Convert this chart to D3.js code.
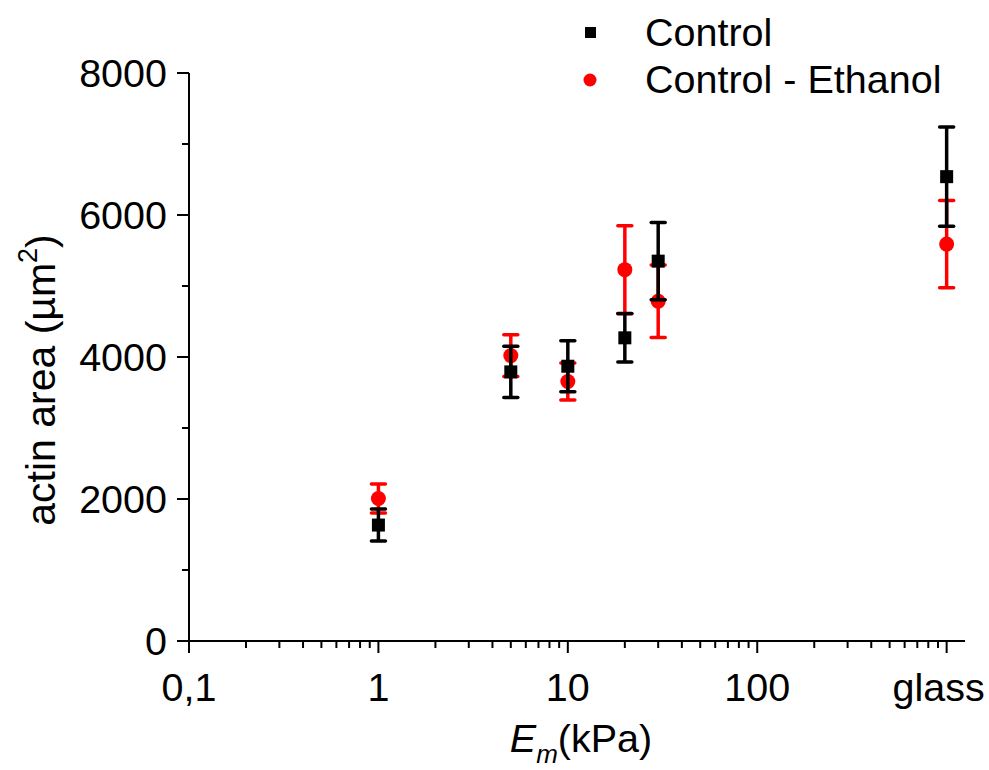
<!DOCTYPE html>
<html>
<head>
<meta charset="utf-8">
<script src="https://cdn.jsdelivr.net/npm/d3@7"></script>
<style>
  html, body { margin: 0; padding: 0; background: #fff; }
  svg { display: block; }
  text { font-family: "Liberation Sans", Arial, sans-serif; fill: #000; }
</style>
</head>
<body>
<script>
// Substrate stiffness (kPa); 1000 stands for the glass substrate
const stiffness = [1, 5, 10, 20, 30, 1000];

// Actin area (µm²), mean and error for each condition
const controlMean = [1633, 3790, 3870, 4270, 5350, 6540];
const controlErr  = [225, 360, 360, 342, 545, 700];
const ethanolMean = [2007, 4020, 3655, 5230, 4785, 5590];
const ethanolErr  = [204, 295, 260, 620, 510, 615];

// Axis ticks and labels
const xMajorTicks = [0.1, 1, 10, 100, 1000];
const xMajorLabels = ["0,1", "1", "10", "100", "glass"];
const yMajorTicks = [0, 2000, 4000, 6000, 8000];
const yMinorTicks = [1000, 3000, 5000, 7000];

const seriesNames = ["Control", "Control - Ethanol"];
const seriesColors = ["#000000", "#ff0000"];

const W = 989, H = 770;
const FS = 39.5;
const svg = d3.select("body").append("svg").attr("width", W).attr("height", H);

const x = d3.scaleLog().domain([0.1, 1250]).range([189, 965]);
const y = d3.scaleLinear().domain([0, 8000]).range([641, 73]);

// minor x ticks: 2..9 within each decade
const xMinorTicks = [];
xMajorTicks.slice(0, -1).forEach(d => { for (let k = 2; k <= 9; k++) xMinorTicks.push(+(d * k).toPrecision(3)); });

const axisColor = "#000";
const g = svg.append("g");

// y axis line
g.append("line").attr("x1", x(0.1)).attr("x2", x(0.1)).attr("y1", y(8000)).attr("y2", y(0) + 1)
  .attr("stroke", axisColor).attr("stroke-width", 2);
// x axis line
g.append("line").attr("x1", x(0.1) - 1).attr("x2", x(1250)).attr("y1", y(0)).attr("y2", y(0))
  .attr("stroke", axisColor).attr("stroke-width", 2);

// y ticks
g.selectAll(".ymaj").data(yMajorTicks).join("line")
  .attr("x1", x(0.1) - 12).attr("x2", x(0.1)).attr("y1", d => y(d)).attr("y2", d => y(d))
  .attr("stroke", axisColor).attr("stroke-width", 2);
g.selectAll(".ymin").data(yMinorTicks).join("line")
  .attr("x1", x(0.1) - 7).attr("x2", x(0.1)).attr("y1", d => y(d)).attr("y2", d => y(d))
  .attr("stroke", axisColor).attr("stroke-width", 2);
g.selectAll(".ylab").data(yMajorTicks).join("text")
  .attr("x", x(0.1) - 22).attr("y", d => y(d) + 14)
  .attr("text-anchor", "end").attr("font-size", FS)
  .text(d => d);

// x ticks
g.selectAll(".xmaj").data(xMajorTicks).join("line")
  .attr("x1", d => x(d)).attr("x2", d => x(d)).attr("y1", y(0)).attr("y2", y(0) + 12)
  .attr("stroke", axisColor).attr("stroke-width", 2);
g.selectAll(".xmin").data(xMinorTicks).join("line")
  .attr("x1", d => x(d)).attr("x2", d => x(d)).attr("y1", y(0)).attr("y2", y(0) + 7)
  .attr("stroke", axisColor).attr("stroke-width", 2);
g.selectAll(".xlab").data(xMajorTicks).join("text")
  .attr("x", (d, i) => x(d) - (i === xMajorTicks.length - 1 ? 8 : 0))
  .attr("y", 701)
  .attr("text-anchor", "middle").attr("font-size", FS)
  .text((d, i) => xMajorLabels[i]);

// axis titles
const xt = svg.append("text").attr("x", 581).attr("y", 752).attr("text-anchor", "middle").attr("font-size", FS);
xt.append("tspan").attr("font-style", "italic").text("E");
xt.append("tspan").attr("font-style", "italic").attr("font-size", 26).attr("dy", 11).text("m");
xt.append("tspan").attr("dy", -11).text("(kPa)");

const yt = svg.append("text").attr("transform", "translate(55,380) rotate(-90)")
  .attr("text-anchor", "middle").attr("font-size", FS + 1.5);
yt.append("tspan").text("actin area (\u00b5m");
yt.append("tspan").attr("font-size", 27).attr("dy", -18).text("2");
yt.append("tspan").attr("dy", 18).text(")");

// data series: error bars then markers; ethanol drawn first so control sits on top
function drawSeries(means, errs, color, shape) {
  const s = svg.append("g");
  const rows = stiffness.map((v, i) => ({ v, m: means[i], e: errs[i] }));
  s.selectAll(".bar").data(rows).join("line")
    .attr("x1", d => x(d.v)).attr("x2", d => x(d.v))
    .attr("y1", d => y(d.m + d.e)).attr("y2", d => y(d.m - d.e))
    .attr("stroke", color).attr("stroke-width", 3.5);
  s.selectAll(".capt").data(rows).join("line")
    .attr("x1", d => x(d.v) - 7).attr("x2", d => x(d.v) + 7)
    .attr("y1", d => y(d.m + d.e)).attr("y2", d => y(d.m + d.e))
    .attr("stroke", color).attr("stroke-width", 3.5).attr("stroke-linecap", "round");
  s.selectAll(".capb").data(rows).join("line")
    .attr("x1", d => x(d.v) - 7).attr("x2", d => x(d.v) + 7)
    .attr("y1", d => y(d.m - d.e)).attr("y2", d => y(d.m - d.e))
    .attr("stroke", color).attr("stroke-width", 3.5).attr("stroke-linecap", "round");
  if (shape === "square") {
    s.selectAll(".mk").data(rows).join("rect")
      .attr("x", d => x(d.v) - 6.5).attr("y", d => y(d.m) - 6.5)
      .attr("width", 13).attr("height", 13).attr("fill", color);
  } else {
    s.selectAll(".mk").data(rows).join("circle")
      .attr("cx", d => x(d.v)).attr("cy", d => y(d.m)).attr("r", 7.5).attr("fill", color);
  }
}
drawSeries(ethanolMean, ethanolErr, seriesColors[1], "circle");
drawSeries(controlMean, controlErr, seriesColors[0], "square");

// legend
const lg = svg.append("g");
lg.append("rect").attr("x", 585).attr("y", 27).attr("width", 11).attr("height", 11).attr("fill", seriesColors[0]);
lg.append("circle").attr("cx", 590).attr("cy", 80).attr("r", 6.5).attr("fill", seriesColors[1]);
lg.selectAll(".lt").data(seriesNames).join("text")
  .attr("x", 645).attr("y", (d, i) => 46 + i * 47)
  .attr("font-size", FS).text(d => d);
</script>
</body>
</html>
